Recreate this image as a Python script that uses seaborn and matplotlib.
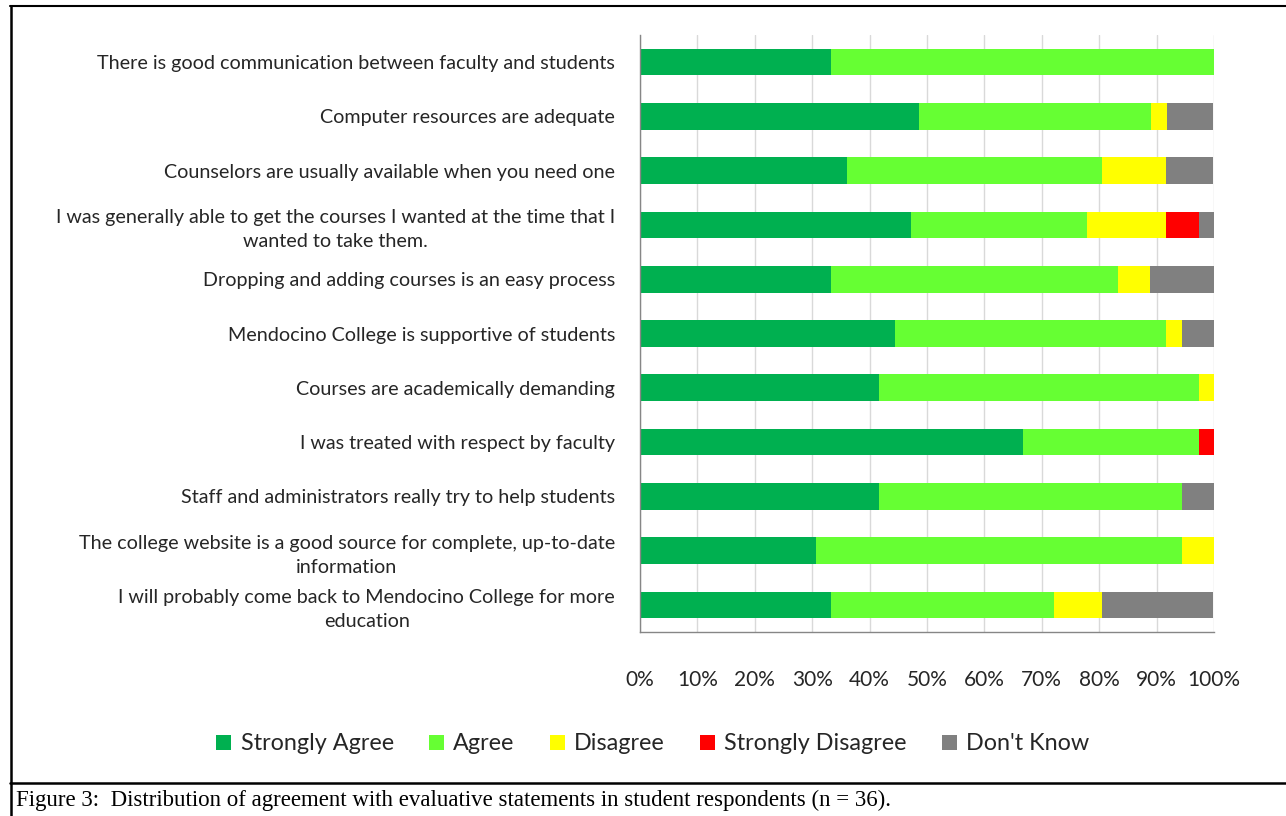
import matplotlib
matplotlib.use("Agg")
import matplotlib.pyplot as plt
import seaborn as sns
import pandas as pd
import numpy as np
from matplotlib.patches import Patch
from matplotlib.lines import Line2D

statements = [
    "There is good communication between faculty and students",
    "Computer resources are adequate",
    "Counselors are usually available when you need one",
    "I was generally able to get the courses I wanted at the time that I\nwanted to take them.",
    "Dropping and adding courses is an easy process",
    "Mendocino College is supportive of students",
    "Courses are academically demanding",
    "I was treated with respect by faculty",
    "Staff and administrators really try to help students",
    "The college website is a good source for complete, up-to-date\ninformation",
    "I will probably come back to Mendocino College for more\neducation",
]

# percentages
strongly_agree = [33.3, 48.6, 36.1, 47.2, 33.3, 44.4, 41.7, 66.7, 41.7, 30.6, 33.3]
agree = [66.7, 40.5, 44.4, 30.6, 50.0, 47.2, 55.6, 30.6, 52.8, 63.9, 38.9]
disagree = [0.0, 2.7, 11.1, 13.9, 5.6, 2.8, 2.8, 0.0, 0.0, 5.6, 8.3]
strongly_disagree = [0.0, 0.0, 0.0, 5.6, 0.0, 0.0, 0.0, 2.8, 0.0, 0.0, 0.0]
dont_know = [0.0, 8.1, 8.3, 2.8, 11.1, 5.6, 0.0, 0.0, 5.6, 0.0, 19.4]

series_names = ["Strongly Agree", "Agree", "Disagree", "Strongly Disagree", "Don't Know"]
series_colors = ["#00B050", "#66FF33", "#FFFF00", "#FF0000", "#808080"]
tick_values = [0, 10, 20, 30, 40, 50, 60, 70, 80, 90, 100]
tick_labels = ["0%", "10%", "20%", "30%", "40%", "50%", "60%", "70%", "80%", "90%", "100%"]
caption = "Figure 3:  Distribution of agreement with evaluative statements in student respondents (n = 36)."

df = pd.DataFrame({
    "Statement": statements,
    "Strongly Agree": strongly_agree,
    "Agree": agree,
    "Disagree": disagree,
    "Strongly Disagree": strongly_disagree,
    "Don't Know": dont_know,
})

sns.set_theme(style="white")
plt.rcParams["font.family"] = ["Lato", "DejaVu Sans"]

fig = plt.figure(figsize=(12.86, 8.16), dpi=100)
ax = fig.add_axes([640/1286, 1-632/816, (1214-640)/1286, (632-35)/816])

cum = df[series_names].cumsum(axis=1)
for name, color in reversed(list(zip(series_names, series_colors))):
    sns.barplot(x=cum[name], y=df["Statement"], orient="h", color=color,
                width=0.49, saturation=1, ax=ax, linewidth=0, zorder=3)

ax.set_xlim(0, 100)
ax.set_ylim(10.5, -0.5)
ax.set_xticks(tick_values)
ax.set_xticklabels(tick_labels, fontsize=15)
ax.set_xlabel("")
ax.set_ylabel("")
ax.tick_params(axis="x", direction="out", length=5, width=1, color="#868686", pad=22)
ax.tick_params(axis="y", length=0, pad=18, labelsize=14.2)
for lbl in ax.get_yticklabels():
    lbl.set_multialignment("center")
    lbl.set_linespacing(1.5)
ax.grid(axis="x", color="#d9d9d9", linewidth=1, zorder=0)
ax.grid(axis="y", visible=False)
for s in ["top", "right"]:
    ax.spines[s].set_visible(False)
for s in ["left", "bottom"]:
    ax.spines[s].set_color("#868686")
    ax.spines[s].set_linewidth(1)
    ax.spines[s].set_zorder(4)

handles = [Patch(facecolor=c, edgecolor="none", label=n) for n, c in zip(series_names, series_colors)]
fig.legend(handles=handles, loc="center", bbox_to_anchor=(653/1286, 1-744/816), ncol=5,
           frameon=False, fontsize=16.8, handlelength=0.65, handleheight=0.65,
           handletextpad=0.4, columnspacing=1.5)

# frame lines
fig.add_artist(Line2D([10/1286, 1], [1-5.5/816, 1-5.5/816], color="black", lw=1.5, transform=fig.transFigure))
fig.add_artist(Line2D([10.5/1286, 10.5/1286], [0, 1-5.5/816], color="black", lw=1.8, transform=fig.transFigure))
fig.add_artist(Line2D([10/1286, 1], [1-783/816, 1-783/816], color="black", lw=1.8, transform=fig.transFigure))

fig.text(16/1286, 1-800/816, caption, family=["Liberation Serif"], fontsize=16.5,
         ha="left", va="center", color="black")

fig.savefig("out.png", dpi=100)
